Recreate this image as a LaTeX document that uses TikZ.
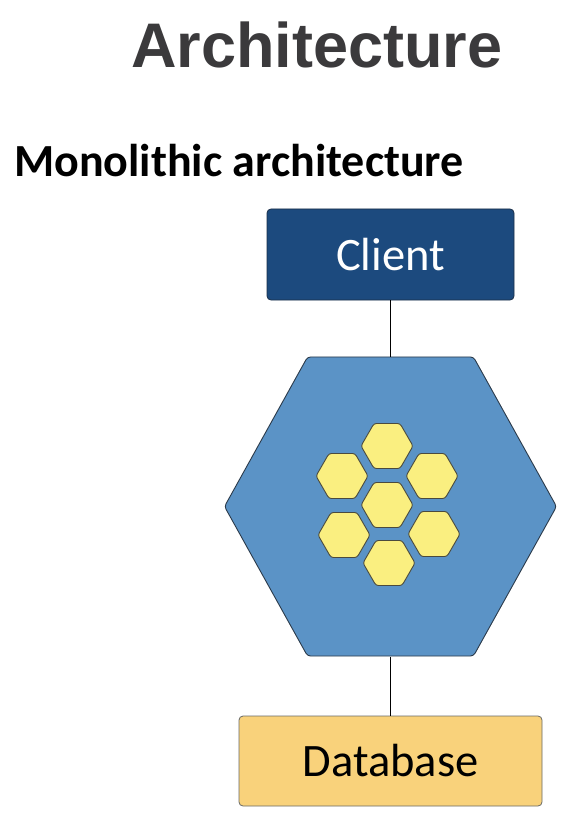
\documentclass[tikz,border=0pt]{standalone}
\usepackage{fontspec}
\setmainfont{Carlito}
\newfontfamily\headfont{Liberation Sans}
\usetikzlibrary{shapes.geometric, positioning}

\definecolor{clientblue}{HTML}{1C4A7E}
\definecolor{clientedge}{HTML}{1A2E48}
\definecolor{appblue}{HTML}{5B93C6}
\definecolor{appedge}{HTML}{2B3A4A}
\definecolor{cellyellow}{HTML}{FAEF80}
\definecolor{celledge}{HTML}{4A4A3E}
\definecolor{dbyellow}{HTML}{F9D27B}
\definecolor{dbedge}{HTML}{6A6A66}
\definecolor{titlegray}{HTML}{3B3A3C}

\begin{document}
\begin{tikzpicture}[
  x=1pt, y=-1pt,
  box/.style={draw, rounded corners=4pt, minimum width=247pt, minimum height=91pt, inner sep=0pt, line width=0.8pt, font=\fontsize{46.5}{50}\selectfont},
  hexa/.style={regular polygon, regular polygon sides=6, draw, inner sep=0pt, line width=0.9pt},
  cell/.style={hexa, fill=cellyellow, draw=celledge, minimum size=52pt, rounded corners=2.5pt},
  link/.style={line width=1.5pt, black}
]
\useasboundingbox[fill=white] (0,0) rectangle (582,818);

\node[anchor=base, text=titlegray, font=\headfont\bfseries\fontsize{63}{70}\selectfont] (title) at (317,68) {Architecture};
\node[anchor=base west, inner sep=0pt, font=\bfseries\fontsize{46}{50}\selectfont] (subtitle) at (14,177) {Monolithic architecture};

\node[box, fill=clientblue, draw=clientedge, text=white] (client) at (390.5,254.5) {Client};
\begin{scope}[shift={(390.5,506.5)}, yscale=1.04]
  \node[hexa, fill=appblue, draw=appedge, minimum size=332pt, rounded corners=3pt, transform shape] (app) at (0,0) {};
\end{scope}
\node[box, fill=dbyellow, draw=dbedge, minimum width=303pt, minimum height=90pt] (db) at (390.5,761) {Database};

% modules inside the monolith
\node[cell] (mod1) at (387,446) {};
\node[cell] (mod2) at (342,476) {};
\node[cell] (mod3) at (432,476) {};
\node[cell] (mod4) at (387,505) {};
\node[cell] (mod5) at (344,535) {};
\node[cell] (mod6) at (434,534) {};
\node[cell] (mod7) at (389,563) {};

\draw[link] (client) -- (app);
\draw[link] (app) -- (db);
\end{tikzpicture}
\end{document}
